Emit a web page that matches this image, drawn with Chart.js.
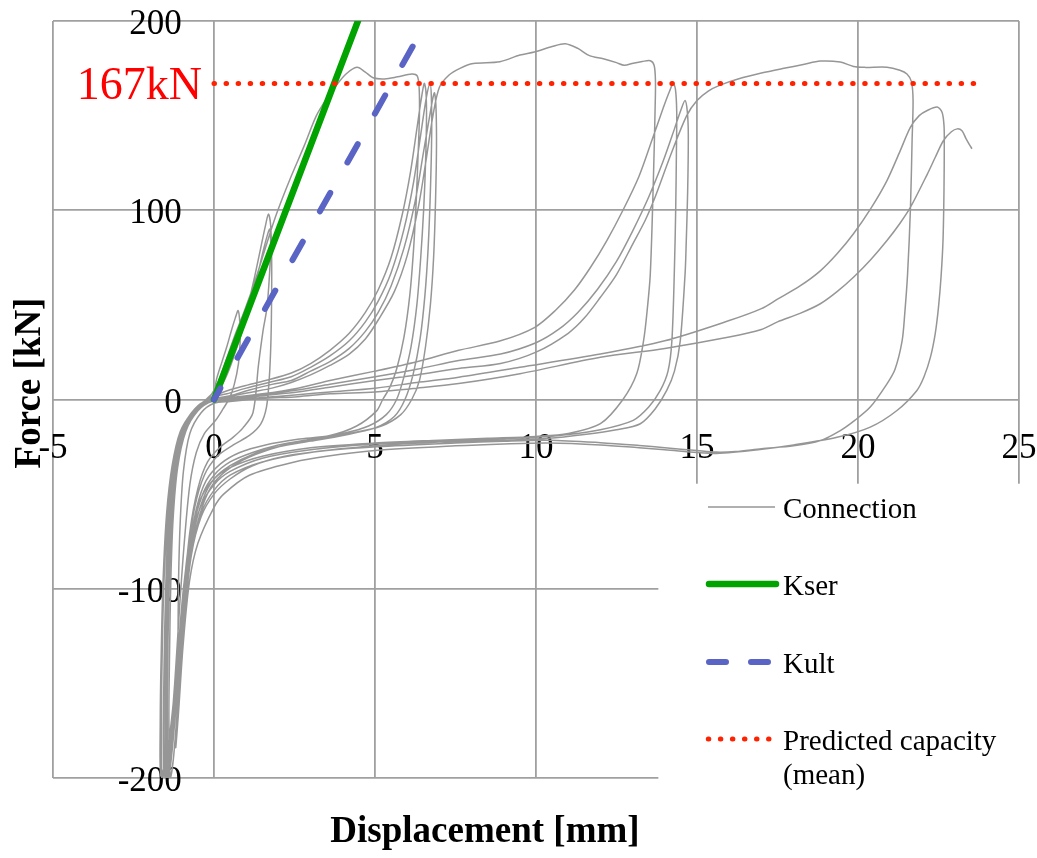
<!DOCTYPE html>
<html>
<head>
<meta charset="utf-8">
<script src="https://cdn.jsdelivr.net/npm/chart.js@4.4.1/dist/chart.umd.min.js"></script>
<style>
html,body{margin:0;padding:0;background:#fff;}
#wrap{width:1037px;height:858px;}
</style>
</head>
<body>
<div id="wrap"><canvas id="c" width="1037" height="858"></canvas></div>
<script>
// ---------- DATA (displacement [mm], force [kN]) ----------
const xTickStep = 5, xMin = -5, xMax = 25;
const yTickStep = 100, yMin = -200, yMax = 200;

const seriesLabels = ['Connection', 'Kser', 'Kult', 'Predicted capacity (mean)'];
const legendText = [['Connection'], ['Kser'], ['Kult'], ['Predicted capacity', '(mean)']];

const kserX = [0, 4.47];
const kserY = [0, 200];
const kultX = [0, 6.45];
const kultY = [0, 195];
const capacityValue = 167;
const capacityX = [0, 23.6];

// Connection test record, one array per loading loop
const loop01 = [[0,0],[0.07,10],[0.25,20],[0.4,28],[0.55,37],[0.66,43],[0.75,47],[0.8,41],[0.81,30],[0.76,19],[0.63,8],[0.49,1],[0.28,-5],[0.05,-11],[-0.3,-18],[-0.55,-28],[-0.75,-45],[-0.92,-75],[-1.07,-110],[-1.22,-150],[-1.38,-183],[-1.5,-196],[-1.55,-199]];
const loop02 = [[-1.57,-175],[-1.55,-140],[-1.5,-100],[-1.42,-65],[-1.28,-38],[-1.0,-18],[-0.6,-7],[-0.2,-1],[0.15,5],[0.45,15],[0.75,30],[1.0,46],[1.25,64],[1.45,80],[1.6,92],[1.69,98],[1.76,92],[1.79,75],[1.79,55],[1.77,32],[1.72,12],[1.63,-4],[1.45,-13],[1.1,-19],[0.6,-24],[0.1,-30],[-0.3,-40],[-0.6,-57],[-0.85,-85],[-1.05,-122],[-1.25,-162],[-1.45,-192],[-1.62,-200]];
const loop03 = [[-1.66,-170],[-1.64,-135],[-1.58,-95],[-1.47,-60],[-1.3,-35],[-1.05,-17],[-0.65,-6],[-0.25,0],[0.1,6],[0.4,14],[0.7,27],[1.0,43],[1.3,62],[1.52,78],[1.66,87],[1.73,90],[1.76,82],[1.72,65],[1.64,48],[1.52,36],[1.38,18],[1.21,-7],[0.9,-15],[0.59,-20],[0.2,-25],[-0.2,-33],[-0.5,-47],[-0.75,-70],[-0.95,-105],[-1.15,-145],[-1.35,-182],[-1.5,-199]];
const loop04 = [[-1.52,-170],[-1.5,-130],[-1.46,-90],[-1.38,-58],[-1.22,-33],[-0.95,-16],[-0.55,-5],[-0.15,1],[0.15,10],[0.4,22],[0.65,34],[0.95,47],[1.3,64],[1.65,83],[1.94,98],[2.35,116],[2.8,134],[3.18,150],[3.5,159],[3.8,166],[4.1,172],[4.44,175.5],[4.7,173],[4.94,170],[5.3,169.4],[5.7,170.5],[6.14,172],[6.31,171],[6.37,165],[6.38,150],[6.34,130],[6.28,105],[6.2,80],[6.08,55],[5.9,33],[5.67,16],[5.45,6],[5.24,0],[5.05,-6],[4.43,-14],[3.6,-19],[2.6,-21],[1.6,-24],[0.8,-28],[0.2,-34],[-0.25,-43],[-0.55,-58],[-0.8,-82],[-1.0,-115],[-1.2,-155],[-1.45,-188],[-1.65,-199]];
const loop05 = [[-1.67,-172],[-1.64,-135],[-1.57,-95],[-1.46,-62],[-1.3,-36],[-1.02,-17],[-0.62,-6],[-0.2,0],[0.3,4],[0.9,7],[1.6,10],[2.4,14],[3.0,19],[3.6,26],[4.2,35],[4.7,46],[5.1,58],[5.5,75],[5.85,98],[6.1,120],[6.3,143],[6.43,158],[6.53,167],[6.58,163],[6.6,150],[6.57,125],[6.51,100],[6.42,75],[6.3,50],[6.12,28],[5.9,12],[5.67,0],[5.35,-8],[4.8,-14],[4.0,-18],[3.0,-21],[2.0,-24],[1.2,-28],[0.5,-33],[0,-40],[-0.35,-50],[-0.65,-68],[-0.88,-95],[-1.08,-133],[-1.28,-170],[-1.45,-197],[-1.5,-200]];
const loop06 = [[-1.52,-170],[-1.5,-130],[-1.45,-92],[-1.36,-60],[-1.2,-34],[-0.93,-16],[-0.52,-5],[-0.1,1],[0.4,3],[1.0,6],[1.7,9],[2.4,12],[3.0,17],[3.6,23],[4.2,31],[4.7,41],[5.1,52],[5.5,67],[5.9,90],[6.2,115],[6.42,140],[6.6,160],[6.71,167],[6.75,160],[6.76,140],[6.72,110],[6.65,80],[6.55,55],[6.4,32],[6.18,13],[5.93,0],[5.6,-9],[5.0,-15],[4.0,-19],[3.0,-22],[2.0,-25],[1.2,-29],[0.5,-35],[0,-42],[-0.35,-53],[-0.65,-72],[-0.9,-102],[-1.1,-140],[-1.3,-176],[-1.45,-199]];
const loop07 = [[-1.48,-172],[-1.46,-132],[-1.41,-93],[-1.32,-61],[-1.17,-35],[-0.9,-17],[-0.5,-6],[-0.05,0],[0.5,2],[1.1,5],[1.8,8],[2.4,10],[3.0,15],[3.6,20],[4.2,27],[4.7,36],[5.1,46],[5.5,60],[5.9,80],[6.25,105],[6.5,130],[6.7,150],[6.84,162],[6.89,156],[6.91,135],[6.88,105],[6.82,75],[6.72,50],[6.57,28],[6.38,10],[6.14,0],[5.8,-8],[5.2,-14],[4.2,-18],[3.2,-21],[2.2,-24],[1.3,-29],[0.6,-35],[0,-44],[-0.35,-56],[-0.65,-76],[-0.9,-108],[-1.1,-147],[-1.28,-182],[-1.4,-200]];
const loop08 = [[-1.45,-170],[-1.43,-130],[-1.38,-90],[-1.3,-60],[-1.15,-34],[-0.88,-16],[-0.48,-5],[0,0],[0.6,2],[1.2,4],[1.8,6],[2.4,9],[3.0,13],[3.6,18],[4.2,24],[4.7,32],[5.1,42],[5.6,57],[6.0,76],[6.35,102],[6.6,128],[6.8,150],[7.0,165],[7.3,171.5],[7.64,175],[8.05,177.5],[8.88,178.5],[9.5,182],[9.95,183.6],[10.5,186.5],[10.91,188],[11.3,185.5],[11.66,181.7],[12.09,180],[12.5,178],[12.74,176.6],[13.02,177.7],[13.3,178.6],[13.55,179],[13.67,176.5],[13.71,168],[13.7,154.5],[13.65,119],[13.55,66.5],[13.44,45],[13.34,31],[13.13,13.7],[12.7,0],[12,-12.8],[11,-18],[10,-19.5],[8.5,-20.5],[7,-21.5],[5,-23],[3,-25.5],[1.5,-30],[0.5,-36],[0,-42],[-0.4,-52],[-0.7,-70],[-0.95,-100],[-1.15,-140],[-1.38,-178],[-1.6,-199]];
const loop09 = [[-1.63,-172],[-1.61,-135],[-1.55,-95],[-1.44,-62],[-1.27,-35],[-1.0,-16],[-0.6,-5],[-0.15,0],[0.5,1],[1.5,3],[2.6,6],[3.6,10],[5,15],[6.3,20],[7.6,26],[8.9,31],[9.95,38],[10.6,47],[11.2,58],[11.7,70],[12.2,84],[12.7,100],[13.2,118],[13.6,137],[13.95,154],[14.15,163],[14.26,167],[14.33,164],[14.37,152],[14.36,130],[14.34,102],[14.3,70],[14.22,31],[14.1,15],[13.86,4.8],[13.5,-4],[13.02,-11],[12,-16],[11,-18.5],[10,-20],[8.5,-21],[7,-22],[5,-23.5],[3,-26.5],[1.5,-31],[0.5,-38],[0,-45],[-0.4,-56],[-0.7,-74],[-0.95,-104],[-1.15,-145],[-1.32,-182],[-1.45,-200]];
const loop10 = [[-1.47,-172],[-1.45,-133],[-1.4,-94],[-1.32,-62],[-1.17,-35],[-0.92,-17],[-0.52,-6],[-0.05,0],[0.5,0.5],[1.5,2.5],[2.6,5],[3.6,8],[5,12],[6.3,16],[7.6,20.6],[8.9,24],[10,30],[10.7,37],[11.3,46],[11.9,58],[12.5,73],[13.0,89],[13.5,107],[13.95,126],[14.3,143],[14.5,153],[14.63,158],[14.7,152],[14.73,140],[14.71,110],[14.66,80],[14.63,66.4],[14.48,31],[14.3,15],[14.06,4.8],[13.7,-5],[13.24,-12.8],[12.5,-16],[11.5,-18.5],[10.4,-20.5],[9,-21.5],[7,-22.5],[5,-24.5],[3,-28],[1.5,-33],[0.5,-40],[0,-48],[-0.4,-60],[-0.7,-78],[-0.95,-110],[-1.15,-150],[-1.3,-185],[-1.42,-200]];
const loop11 = [[-1.5,-172],[-1.48,-134],[-1.43,-94],[-1.35,-62],[-1.2,-35],[-0.95,-17],[-0.55,-6],[-0.1,0],[0.5,0],[1.5,2],[2.6,4],[3.6,6.5],[5,10],[6.3,13],[7.6,16.4],[8.9,19],[10,25],[11,35],[11.5,43],[12,54],[12.5,66],[13,82],[13.4,95],[13.7,107],[14.2,130],[14.68,150],[15,158],[15.35,163],[15.7,166],[16.3,169.5],[17,172.5],[17.7,175],[18.3,177],[18.83,178.8],[19.45,178.3],[19.86,176],[20.2,175.5],[20.9,175.6],[21.3,174],[21.52,172],[21.66,168],[21.71,158],[21.68,137],[21.63,101.6],[21.54,66.4],[21.45,45],[21.37,31],[21.15,16],[20.9,8.3],[20.38,-4],[19.9,-11],[19.45,-16.4],[18.83,-21.7],[18,-24.5],[17,-26],[16.2,-27.5],[15.6,-27.8],[15,-27],[14,-25.5],[13.2,-24.3],[12,-22.8],[10.4,-21.5],[9,-22],[7.5,-23],[5.05,-25],[3.5,-27],[2.2,-30],[1.2,-35],[0.5,-42],[0,-50],[-0.4,-62],[-0.7,-82],[-0.92,-115],[-1.1,-155],[-1.25,-188],[-1.35,-200]];
const loop12 = [[-1.4,-172],[-1.38,-134],[-1.34,-95],[-1.27,-63],[-1.13,-36],[-0.88,-17],[-0.5,-6],[-0.05,-1],[0.5,-0.5],[1.5,1],[2.6,2.5],[3.6,4],[5,6],[6.3,9],[7.6,11.8],[9.5,17],[12,24],[14,31],[16,41.7],[17,48],[17.5,53],[18.2,60],[18.83,68],[19.35,77],[19.86,87.6],[20.4,101],[20.9,115.7],[21.3,131],[21.63,143.9],[21.9,150],[22.15,152.7],[22.46,154.5],[22.61,151.8],[22.67,145],[22.68,137],[22.67,110],[22.64,84],[22.58,65],[22.5,48.8],[22.4,35],[22.25,22.4],[22.05,12],[21.83,4.8],[21.21,-5.8],[20.38,-14.6],[19.35,-20],[18,-24],[16.9,-26.5],[15.6,-28.5],[15,-28],[14,-26.5],[13.2,-25.5],[12,-24],[10.4,-23],[9,-23.5],[7.5,-24.5],[5,-27],[3.5,-30],[2.5,-33],[1.1,-40],[0.3,-50],[0,-57],[-0.5,-76],[-0.76,-96],[-0.96,-130],[-1.1,-165],[-1.19,-184]];
const loop13 = [[-1.13,-160],[-1.12,-130],[-1.1,-95],[-1.05,-65],[-0.95,-38],[-0.75,-18],[-0.4,-7],[0,-2],[0.5,-1],[1.5,0.5],[2.6,1.5],[3.6,3],[5,4],[6.3,6],[7.6,8.4],[9.5,13.6],[12,22.3],[14,27],[16,33],[17,37],[17.5,41],[18.2,45.5],[18.83,50.6],[19.35,57],[19.86,64.6],[20.4,74],[20.9,84],[21.3,93],[21.63,101.6],[22.15,119],[22.4,128],[22.66,137],[22.9,141.5],[23.08,143],[23.23,142],[23.35,138],[23.45,135],[23.54,132.5]];

const connectionLoops = [loop01, loop02, loop03, loop04, loop05, loop06, loop07, loop08, loop09, loop10, loop11, loop12, loop13];

// ---------- STYLE ----------
const FONT = "'Liberation Serif','Times New Roman',serif";
const GRID = '#a0a0a0';
const colConn = '#969696', colKser = '#00A300', colKult = '#5964C4', colCap = '#FF2200';

const toPts = (xs, ys) => xs.map((v, i) => ({x: v, y: ys[i]}));
const connectionData = connectionLoops.flat().map(p => ({x: p[0], y: p[1]}));

const extras = {
  id: 'extras',
  beforeDatasetsDraw(chart) {
    const {ctx, scales: {x, y}} = chart;
    const left = x.getPixelForValue(13.8), top = y.getPixelForValue(-44.5);
    ctx.save();
    ctx.fillStyle = '#ffffff';
    ctx.fillRect(left, top, chart.width - left, chart.height - top);
    ctx.restore();
  },
  afterDraw(chart) {
    const {ctx, scales: {x, y}} = chart;
    ctx.save();
    // capacity label
    ctx.font = '46px ' + FONT;
    ctx.fillStyle = '#FF0000';
    ctx.textAlign = 'right';
    ctx.textBaseline = 'middle';
    ctx.fillText(capacityValue + 'kN', x.getPixelForValue(0) - 12, y.getPixelForValue(capacityValue) + 3.5);

    // axis titles
    ctx.fillStyle = '#000';
    ctx.font = 'bold 37px ' + FONT;
    ctx.textAlign = 'center';
    ctx.fillText('Displacement [mm]', 485, 832);
    ctx.save();
    ctx.translate(30, 383);
    ctx.rotate(-Math.PI / 2);
    ctx.fillText('Force [kN]', 0, 0);
    ctx.restore();

    // legend
    const ds = chart.data.datasets;
    const rows = [507, 584, 662, 739];
    const samples = [
      {x0: 708, x1: 775, dash: [], cap: 'butt'},
      {x0: 709, x1: 776, dash: [], cap: 'round'},
      {x0: 709, x1: 768, dash: [17, 25], cap: 'round'},
      {x0: 708.3, x1: 769, dash: [0.5, 11.55], cap: 'round'}
    ];
    ctx.font = '29px ' + FONT;
    ctx.textAlign = 'left';
    ds.forEach((d, i) => {
      const s = samples[i], yy = rows[i];
      ctx.beginPath();
      ctx.strokeStyle = d.borderColor;
      ctx.lineWidth = d.borderWidth;
      ctx.lineCap = s.cap;
      ctx.setLineDash(s.dash);
      ctx.moveTo(s.x0, yy);
      ctx.lineTo(s.x1, yy);
      ctx.stroke();
      ctx.setLineDash([]);
      ctx.fillStyle = '#000';
      legendText[i].forEach((t, j) => ctx.fillText(t, 783, yy + 3.5 + j * 34));
    });
    ctx.restore();
  }
};

new Chart(document.getElementById('c'), {
  type: 'scatter',
  data: {
    datasets: [
      {label: seriesLabels[0], data: connectionData, showLine: true, borderColor: colConn, borderWidth: 1.5,
       pointRadius: 0, tension: 0.3, order: 4},
      {label: seriesLabels[1], data: toPts(kserX, kserY), showLine: true, borderColor: colKser, borderWidth: 6.5,
       pointRadius: 0, borderCapStyle: 'round', order: 3},
      {label: seriesLabels[2], data: toPts(kultX, kultY), showLine: true, borderColor: colKult, borderWidth: 6,
       pointRadius: 0, borderCapStyle: 'round', borderDash: [21, 35], borderDashOffset: 8, order: 2},
      {label: seriesLabels[3], data: toPts(capacityX, [capacityValue, capacityValue]), showLine: true, borderColor: colCap,
       borderWidth: 5, pointRadius: 0, borderCapStyle: 'round', borderDash: [0.5, 11.55], order: 1}
    ]
  },
  options: {
    responsive: false,
    animation: false,
    devicePixelRatio: 1,
    layout: {padding: {left: 53, top: 21, right: 18, bottom: 80}},
    plugins: {legend: {display: false}, tooltip: {enabled: false}},
    scales: {
      x: {
        type: 'linear', min: xMin, max: xMax, position: {y: 0},
        grid: {color: GRID, lineWidth: 1.8, drawTicks: false},
        border: {display: false},
        ticks: {stepSize: xTickStep, font: {family: FONT, size: 35, lineHeight: 2.8}, color: '#000', padding: 0, maxRotation: 0, autoSkip: false}
      },
      y: {
        type: 'linear', min: yMin, max: yMax, position: {x: -1},
        grid: {color: GRID, lineWidth: 1.8, drawTicks: false},
        border: {display: false},
        ticks: {stepSize: yTickStep, font: {family: FONT, size: 35}, color: '#000', padding: 0, labelOffset: 4}
      }
    }
  },
  plugins: [extras]
});
</script>
</body>
</html>
